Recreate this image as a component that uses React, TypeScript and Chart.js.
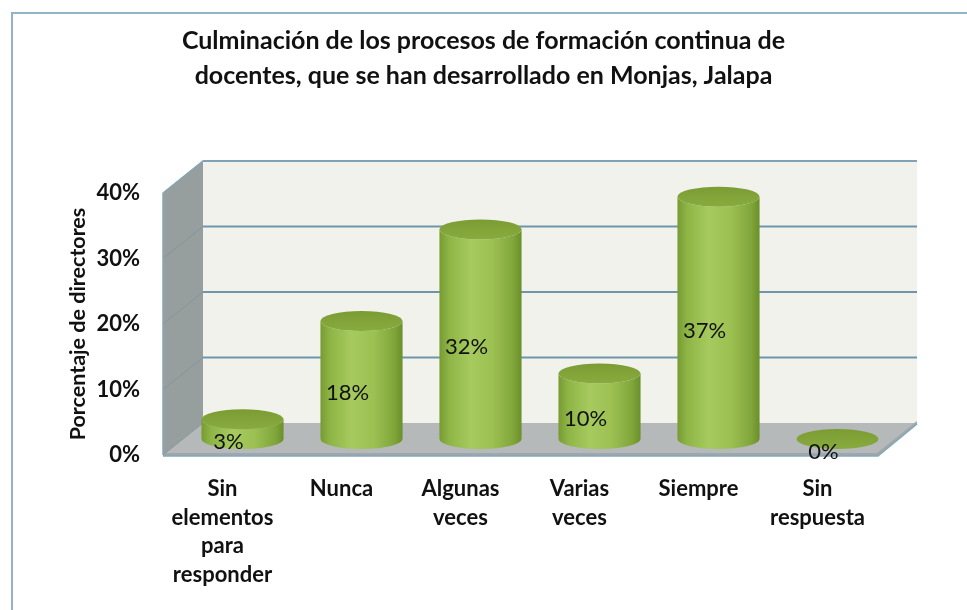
import React, { useEffect, useRef } from "react";
import { Chart, registerables } from "chart.js";

Chart.register(...registerables);

const titleLines = [
  "Culminación de los procesos de formación continua de",
  "docentes, que se han desarrollado en Monjas, Jalapa",
];
const categories: string[][] = [
  ["Sin", "elementos", "para", "responder"],
  ["Nunca"],
  ["Algunas", "veces"],
  ["Varias", "veces"],
  ["Siempre"],
  ["Sin", "respuesta"],
];
const values = [3, 18, 32, 10, 37, 0];
const yMin = 0;
const yMax = 40;
const yStep = 10;
const yTitle = "Porcentaje de directores";

const FONT = "Lato, 'Open Sans', 'DejaVu Sans', sans-serif";
const DX = 40;
const DY = 32;

const framePlugin = {
  id: "frame3d",
  beforeDraw(chart: any) {
    const ctx = chart.ctx as CanvasRenderingContext2D;
    ctx.save();
    ctx.fillStyle = "#ffffff";
    ctx.fillRect(0, 0, chart.width, chart.height);
    ctx.strokeStyle = "#93b4c6";
    ctx.lineWidth = 2;
    ctx.beginPath();
    ctx.moveTo(12, chart.height);
    ctx.lineTo(12, 13);
    ctx.lineTo(chart.width, 13);
    ctx.stroke();
    ctx.restore();
  },
  beforeDatasetsDraw(chart: any) {
    const ctx = chart.ctx as CanvasRenderingContext2D;
    const { left: L, right: R, top: T, bottom: B } = chart.chartArea;
    const ys = chart.scales.y;
    ctx.save();
    // back wall
    ctx.fillStyle = "#f0f2eb";
    ctx.fillRect(L + DX, T - DY, R - L, B - T);
    // side wall
    ctx.fillStyle = "#969e9e";
    ctx.beginPath();
    ctx.moveTo(L, T);
    ctx.lineTo(L + DX, T - DY);
    ctx.lineTo(L + DX, B - DY);
    ctx.lineTo(L, B);
    ctx.closePath();
    ctx.fill();
    // floor
    ctx.fillStyle = "#b5b9b9";
    ctx.beginPath();
    ctx.moveTo(L, B);
    ctx.lineTo(L + DX, B - DY);
    ctx.lineTo(R + DX, B - DY);
    ctx.lineTo(R, B);
    ctx.closePath();
    ctx.fill();
    // floor front thickness
    ctx.fillStyle = "#9ea7aa";
    ctx.beginPath();
    ctx.moveTo(L, B - 2);
    ctx.lineTo(R, B - 2);
    ctx.lineTo(R + DX, B - DY - 2);
    ctx.lineTo(R + DX, B - DY + 1);
    ctx.lineTo(R + 1, B + 1);
    ctx.lineTo(L, B + 1);
    ctx.closePath();
    ctx.fill();
    // gridlines
    for (let v = yMin; v <= yMax; v += yStep) {
      const y = ys.getPixelForValue(v);
      if (v > yMin) {
        ctx.strokeStyle = "#6f95ac";
        ctx.lineWidth = 2;
        ctx.beginPath();
        ctx.moveTo(L + DX, y - DY);
        ctx.lineTo(R + DX, y - DY);
        ctx.stroke();
      }
      ctx.strokeStyle = "#80979f";
      ctx.lineWidth = 1;
      ctx.beginPath();
      ctx.moveTo(L, y);
      ctx.lineTo(L + DX, y - DY);
      ctx.stroke();
    }
    // outlines
    ctx.strokeStyle = "#86a7b9";
    ctx.lineWidth = 1.5;
    ctx.beginPath();
    ctx.moveTo(L, B);
    ctx.lineTo(L, T);
    ctx.lineTo(L + DX, T - DY);
    ctx.lineTo(R + DX, T - DY);
    ctx.stroke();
    ctx.beginPath();
    ctx.moveTo(L, B + 1);
    ctx.lineTo(R + 1, B + 1);
    ctx.lineTo(R + DX, B - DY + 1);
    ctx.stroke();
    ctx.restore();
  },
  afterDatasetsDraw(chart: any) {
    const ctx = chart.ctx as CanvasRenderingContext2D;
    const meta = chart.getDatasetMeta(0);
    ctx.save();
    meta.data.forEach((bar: any, i: number) => {
      const cx = bar.x + DX / 2;
      const rx = bar.width / 2;
      const ry = 10;
      const topY = bar.y - DY / 2;
      const baseY = bar.base - DY / 2;
      if (baseY - topY > 0.5) {
        const g = ctx.createLinearGradient(cx - rx, 0, cx + rx, 0);
        g.addColorStop(0, "#779b32");
        g.addColorStop(0.12, "#8fb547");
        g.addColorStop(0.38, "#a6ca5d");
        g.addColorStop(0.65, "#9cc052");
        g.addColorStop(0.9, "#80a53a");
        g.addColorStop(1, "#6b8f2a");
        ctx.fillStyle = g;
        ctx.beginPath();
        ctx.moveTo(cx - rx, topY);
        ctx.lineTo(cx - rx, baseY);
        ctx.ellipse(cx, baseY, rx, ry, 0, Math.PI, 0, true);
        ctx.lineTo(cx + rx, topY);
        ctx.ellipse(cx, topY, rx, ry, 0, 0, Math.PI, false);
        ctx.closePath();
        ctx.fill();
      }
      const tg = ctx.createLinearGradient(0, topY - ry, 0, topY + ry);
      tg.addColorStop(0, "#7b9c33");
      tg.addColorStop(1, "#88ab3e");
      ctx.fillStyle = tg;
      ctx.beginPath();
      ctx.ellipse(cx, topY, rx, ry, 0, 0, Math.PI * 2);
      ctx.fill();
      // data label
      ctx.fillStyle = "#111111";
      ctx.font = `22px ${FONT}`;
      ctx.textAlign = "center";
      ctx.textBaseline = "middle";
      ctx.fillText(values[i] + "%", bar.x + 6, (bar.y + bar.base) / 2 - 3);
    });
    ctx.restore();
  },
};

export default function App() {
  const ref = useRef<HTMLCanvasElement | null>(null);
  useEffect(() => {
    if (!ref.current) return;
    const chart = new Chart(ref.current, {
      type: "bar",
      data: {
        labels: categories,
        datasets: [
          {
            data: values,
            backgroundColor: "rgba(0,0,0,0)",
            borderWidth: 0,
            barPercentage: 0.69,
            categoryPercentage: 1,
          },
        ],
      },
      options: {
        responsive: false,
        animation: false,
        layout: { padding: 0 },
        plugins: {
          legend: { display: false },
          tooltip: { enabled: false },
          title: {
            display: true,
            text: titleLines,
            color: "#111111",
            font: { family: FONT, size: 25, weight: "bold", lineHeight: "35px" as any },
            padding: { top: 23.5, bottom: 99.5 },
          },
        },
        scales: {
          x: {
            type: "category",
            grid: { display: false },
            border: { display: false },
            ticks: {
              color: "#111111",
              font: { family: FONT, size: 22, weight: "bold", lineHeight: "28.5px" as any },
              padding: 12,
              autoSkip: false,
              maxRotation: 0,
              minRotation: 0,
            },
            afterFit(scale: any) {
              scale.height = 155;
            },
          },
          y: {
            min: yMin,
            max: yMax,
            grid: { display: false, drawTicks: false },
            border: { display: false },
            ticks: {
              stepSize: yStep,
              color: "#111111",
              font: { family: FONT, size: 22, weight: "bold" },
              padding: 23,
              callback: (v: any) => v + "%",
            },
            title: {
              display: true,
              text: yTitle,
              color: "#111111",
              font: { family: FONT, size: 21.5, weight: "bold", lineHeight: 1.2 },
              padding: { top: 65, bottom: 0 },
            },
            afterFit(scale: any) {
              scale.width = 163;
            },
          },
          yRight: {
            type: "linear",
            position: "right",
            display: true,
            grid: { display: false, drawTicks: false },
            border: { display: false },
            ticks: { display: false },
            afterFit(scale: any) {
              scale.width = 90;
            },
          },
        },
      },
      plugins: [framePlugin],
    });
    return () => chart.destroy();
  }, []);
  return (
    <div style={{ position: "fixed", left: 0, top: 0, width: 967, height: 610, background: "#fff" }}>
      <canvas ref={ref} width={967} height={610} style={{ width: 967, height: 610, display: "block" }} />
    </div>
  );
}
